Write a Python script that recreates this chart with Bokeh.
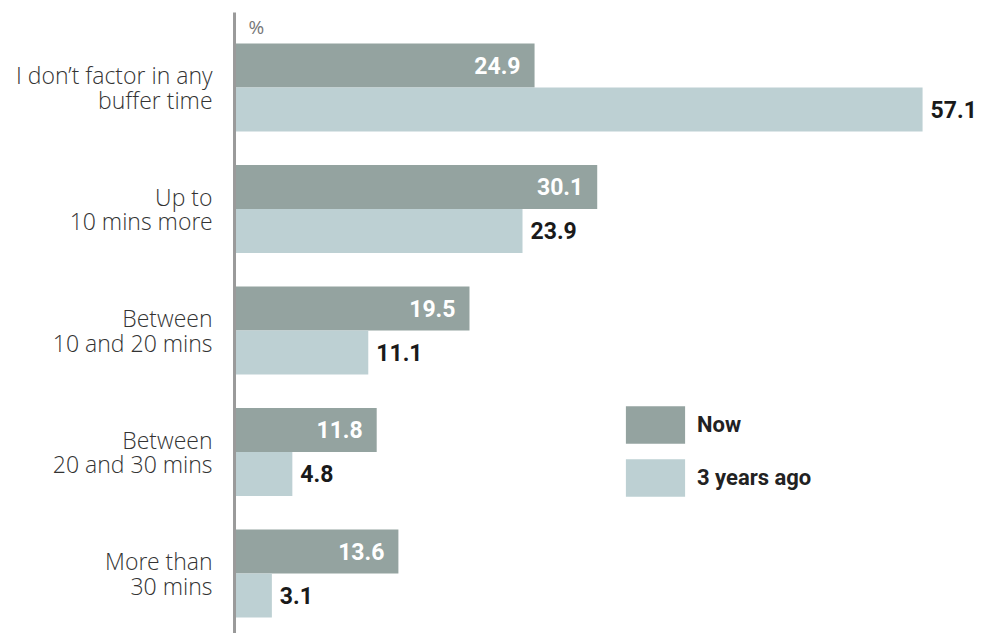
from bokeh.plotting import figure
from bokeh.models import ColumnDataSource, Range1d, Legend, LegendItem
from bokeh.core.properties import value
from bokeh.embed import file_html
from bokeh.resources import INLINE

categories = ["I don\u2019t factor in any\nbuffer time", "Up to\n10 mins more",
              "Between\n10 and 20 mins", "Between\n20 and 30 mins", "More than\n30 mins"]
now = [24.9, 30.1, 19.5, 11.8, 13.6]
ago = [57.1, 23.9, 11.1, 4.8, 3.1]
series_names = ["Now", "3 years ago"]
unit_label = "%"

NOW_C = "#94a3a0"
AGO_C = "#bdd0d3"
BAR_H = 0.362

ypos = [-i for i in range(len(categories))]
src = ColumnDataSource(dict(
    cat=categories, y=ypos,
    y_now=[y + BAR_H / 2 for y in ypos],
    y_ago=[y - BAR_H / 2 for y in ypos],
    now=now, ago=ago,
    now_txt=[f"{v:.1f}" for v in now],
    ago_txt=[f"{v:.1f}" for v in ago],
    zero=[0] * len(categories),
))

W, H = 981, 633
p = figure(width=W, height=H, output_backend="svg", toolbar_location=None,
           x_range=Range1d(-19.42, 61.99), y_range=Range1d(-4.494, 0.716),
           min_border=0, outline_line_color=None)
p.xaxis.visible = False
p.yaxis.visible = False
p.xgrid.visible = False
p.ygrid.visible = False
p.background_fill_color = "white"
p.border_fill_color = "white"

r_now = p.hbar(y="y_now", left=0, right="now", height=BAR_H, source=src,
               fill_color=NOW_C, line_color=None)
r_ago = p.hbar(y="y_ago", left=0, right="ago", height=BAR_H, source=src,
               fill_color=AGO_C, line_color=None)

# axis line
p.segment(x0=[0], x1=[0], y0=[0.617], y1=[-4.6], line_color="#9a9a9a", line_width=3)

# unit label
p.text(x=[1.16], y=[0.494], text=[unit_label], text_font=value("Open Sans"),
       text_font_size="19px", text_color="#777777", text_baseline="middle", text_align="left")

# value labels
p.text(x="now", y="y_now", text="now_txt", source=src, x_offset=-14,
       text_align="right", text_baseline="middle", text_font=value("Roboto"),
       text_font_style="bold", text_font_size="23px", text_color="white")
p.text(x="ago", y="y_ago", text="ago_txt", source=src, x_offset=8,
       text_align="left", text_baseline="middle", text_font=value("Roboto"),
       text_font_style="bold", text_font_size="23px", text_color="#1a1a1a")

# category labels
p.text(x="zero", y="y", text="cat", source=src, x_offset=-22,
       text_align="right", text_baseline="middle",
       text_font=value("'Open Sans Light', 'Open Sans'"),
       text_font_size="23px", text_color="#333333", text_line_height=0.78)

legend = Legend(items=[LegendItem(label=series_names[0], renderers=[r_now]),
                       LegendItem(label=series_names[1], renderers=[r_ago])],
                location=(618, 132), glyph_width=74, glyph_height=47,
                label_standoff=5, spacing=6, padding=0, margin=0,
                border_line_color=None, background_fill_alpha=0,
                label_text_font="Roboto", label_text_font_style="bold",
                label_text_font_size="22px", label_text_color="#222222",
                label_height=47)
p.add_layout(legend)

open("out.html", "w").write(file_html(p, INLINE))
